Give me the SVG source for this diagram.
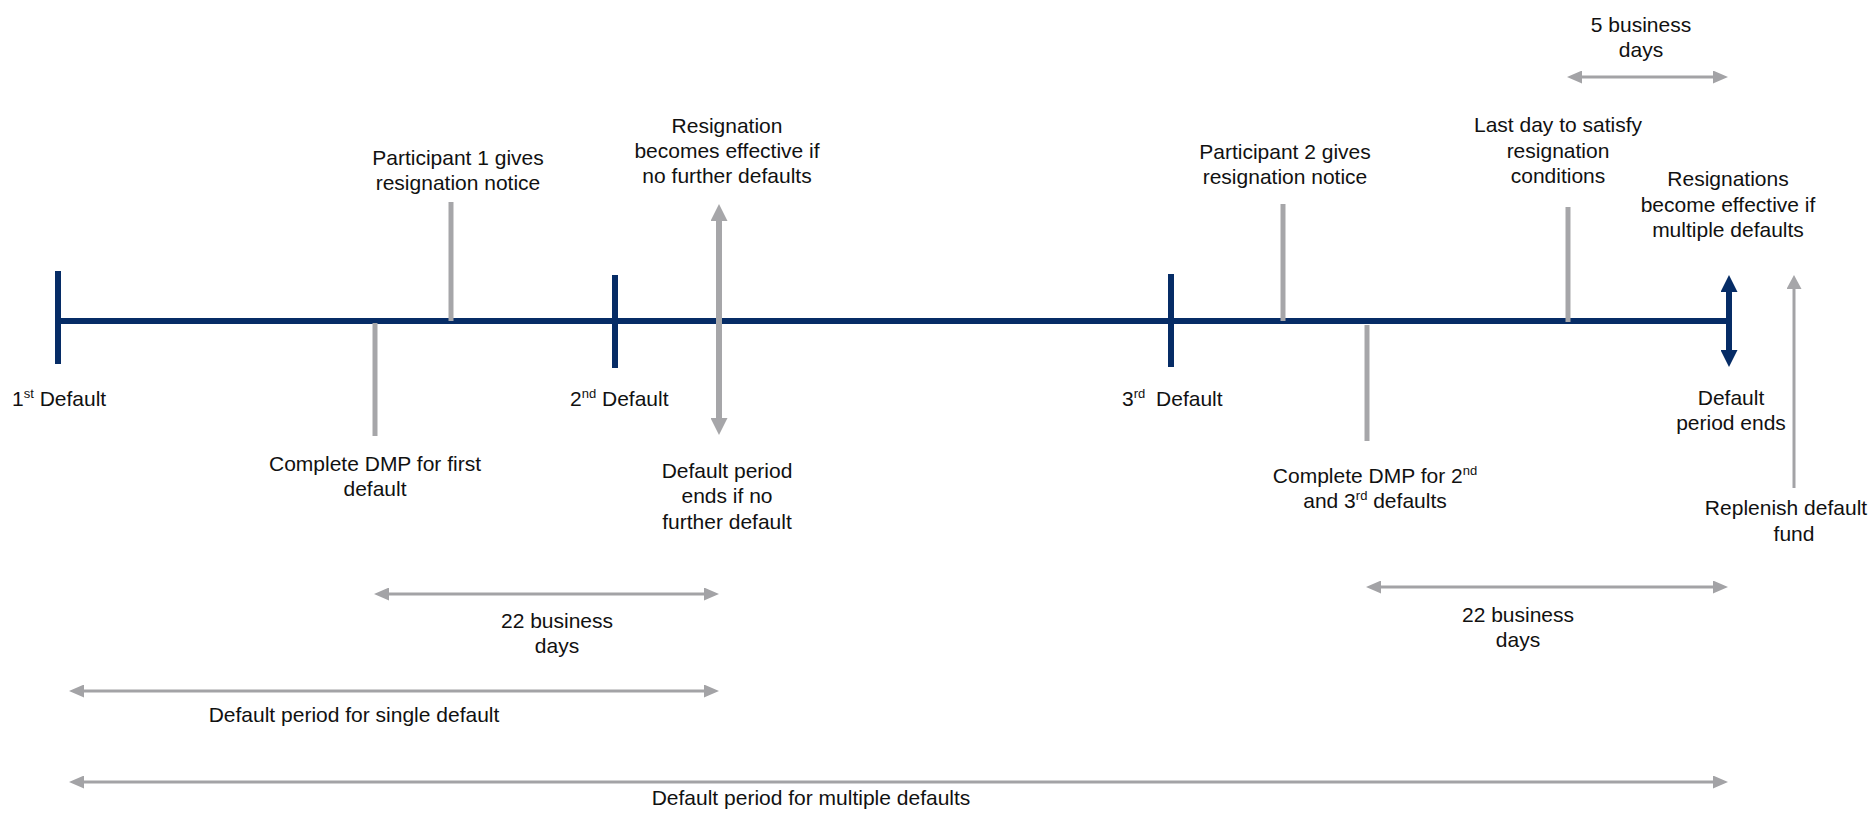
<svg xmlns="http://www.w3.org/2000/svg" width="1876" height="813" viewBox="0 0 1876 813">
<style>
  text { font-family: "Liberation Sans", Arial, sans-serif; font-size: 21px; fill: #111; }
  .c { text-anchor: middle; }
  .sup { font-size: 13px; }
  .navy { stroke: #062c66; stroke-width: 6; fill: none; }
  .gtick { stroke: #a6a6a9; stroke-width: 5; fill: none; }
  .gthick { stroke: #a6a6a9; stroke-width: 6; fill: none; }
  .meas { stroke: #a3a3a6; stroke-width: 3; fill: none; }
</style>
<defs>
  <marker id="ah" markerUnits="userSpaceOnUse" markerWidth="15" markerHeight="13" refX="7" refY="6.5" orient="auto-start-reverse">
    <path d="M0,0 L15,6.5 L0,13 z" fill="#a3a3a6"/>
  </marker>
  <marker id="ahBig" markerUnits="userSpaceOnUse" markerWidth="17" markerHeight="17" refX="8" refY="8.5" orient="auto-start-reverse">
    <path d="M0,0 L17,8.5 L0,17 z" fill="#a6a6a9"/>
  </marker>
  <marker id="ahNavy" markerUnits="userSpaceOnUse" markerWidth="17" markerHeight="17" refX="8" refY="8.5" orient="auto-start-reverse">
    <path d="M0,0 L17,8.5 L0,17 z" fill="#062c66"/>
  </marker>
  <marker id="ahThin" markerUnits="userSpaceOnUse" markerWidth="14" markerHeight="15" refX="6" refY="7.5" orient="auto">
    <path d="M0,0 L14,7.5 L0,15 z" fill="#a6a6a9"/>
  </marker>
</defs>

<g id="timeline">
  <line class="navy" x1="58" y1="321" x2="1726" y2="321" stroke-width="5"/>
</g>

<g id="default1">
  <line class="navy" x1="58" y1="271" x2="58" y2="364"/>
  <text x="12" y="406">1<tspan class="sup" dy="-8">st</tspan><tspan dy="8"> Default</tspan></text>
</g>

<g id="default2">
  <line class="navy" x1="615" y1="275" x2="615" y2="368"/>
  <text x="570" y="406">2<tspan class="sup" dy="-8">nd</tspan><tspan dy="8"> Default</tspan></text>
</g>

<g id="default3">
  <line class="navy" x1="1171" y1="274" x2="1171" y2="367"/>
  <text x="1122" y="406">3<tspan class="sup" dy="-8">rd</tspan><tspan dy="8" dx="5"> Default</tspan></text>
</g>

<g id="dmp-first">
  <line class="gtick" x1="375" y1="323" x2="375" y2="436"/>
  <text class="c"><tspan x="375" y="471">Complete DMP for first</tspan><tspan x="375" y="496">default</tspan></text>
</g>

<g id="participant1">
  <line class="gtick" x1="451" y1="202" x2="451" y2="321"/>
  <text class="c"><tspan x="458" y="165">Participant 1 gives</tspan><tspan x="458" y="190">resignation notice</tspan></text>
</g>

<g id="resignation-effective">
  <text class="c"><tspan x="727" y="133">Resignation</tspan><tspan x="727" y="158">becomes effective if</tspan><tspan x="727" y="183">no further defaults</tspan></text>
</g>

<g id="period-ends-single">
  <text class="c"><tspan x="727" y="478">Default period</tspan><tspan x="727" y="503">ends if no</tspan><tspan x="727" y="529">further default</tspan></text>
</g>

<g id="participant2">
  <line class="gtick" x1="1283" y1="204" x2="1283" y2="321"/>
  <text class="c"><tspan x="1285" y="159">Participant 2 gives</tspan><tspan x="1285" y="184">resignation notice</tspan></text>
</g>

<g id="dmp-second">
  <line class="gtick" x1="1367" y1="325" x2="1367" y2="441"/>
  <text class="c"><tspan x="1375" y="483">Complete DMP for 2</tspan><tspan class="sup" dy="-8">nd</tspan><tspan x="1375" y="508">and 3</tspan><tspan class="sup" dy="-8">rd</tspan><tspan dy="8"> defaults</tspan></text>
</g>

<g id="last-day">
  <line class="gtick" x1="1568" y1="207" x2="1568" y2="322"/>
  <text class="c"><tspan x="1558" y="132">Last day to satisfy</tspan><tspan x="1558" y="158">resignation</tspan><tspan x="1558" y="183">conditions</tspan></text>
</g>

<g id="resignations-multiple">
  <text class="c"><tspan x="1728" y="186">Resignations</tspan><tspan x="1728" y="212">become effective if</tspan><tspan x="1728" y="237">multiple defaults</tspan></text>
</g>

<g id="period-ends">
  <text class="c"><tspan x="1731" y="405">Default</tspan><tspan x="1731" y="430">period ends</tspan></text>
</g>

<g id="replenish">
  <text class="c"><tspan x="1786" y="515">Replenish default</tspan><tspan x="1794" y="541">fund</tspan></text>
</g>

<g id="label-5days">
  <text class="c"><tspan x="1641" y="32">5 business</tspan><tspan x="1641" y="57">days</tspan></text>
</g>

<g id="label-22days-1">
  <text class="c"><tspan x="557" y="628">22 business</tspan><tspan x="557" y="653">days</tspan></text>
</g>

<g id="label-22days-2">
  <text class="c"><tspan x="1518" y="622">22 business</tspan><tspan x="1518" y="647">days</tspan></text>
</g>

<g id="label-single">
  <text class="c" x="354" y="722">Default period for single default</text>
</g>

<g id="label-multiple">
  <text class="c" x="811" y="805">Default period for multiple defaults</text>
</g>

<g id="connectors">
  <line class="gthick" x1="719" y1="213" x2="719" y2="426" marker-start="url(#ahBig)" marker-end="url(#ahBig)"/>
  <line class="navy" x1="1729" y1="284" x2="1729" y2="358" marker-start="url(#ahNavy)" marker-end="url(#ahNavy)"/>
  <line class="meas" x1="1794" y1="488" x2="1794" y2="283" marker-end="url(#ahThin)"/>
  <line class="meas" x1="1575" y1="77" x2="1720" y2="77" marker-start="url(#ah)" marker-end="url(#ah)"/>
  <line class="meas" x1="382" y1="594" x2="711" y2="594" marker-start="url(#ah)" marker-end="url(#ah)"/>
  <line class="meas" x1="1374" y1="587" x2="1720" y2="587" marker-start="url(#ah)" marker-end="url(#ah)"/>
  <line class="meas" x1="77" y1="691" x2="711" y2="691" marker-start="url(#ah)" marker-end="url(#ah)"/>
  <line class="meas" x1="77" y1="782" x2="1720" y2="782" marker-start="url(#ah)" marker-end="url(#ah)"/>
</g>
</svg>
